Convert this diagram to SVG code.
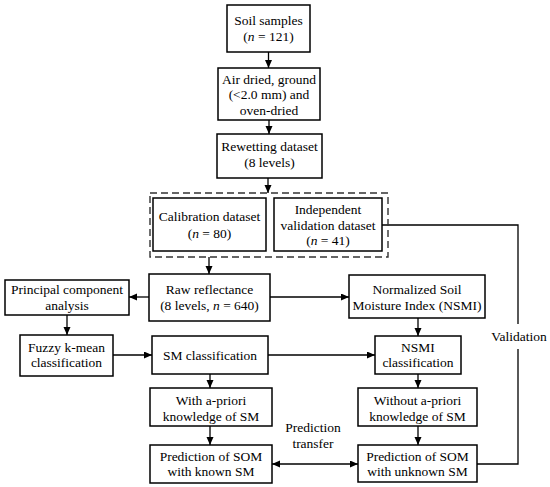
<svg xmlns="http://www.w3.org/2000/svg" width="550" height="487" viewBox="0 0 550 487">
<style>
  .box { fill: #ffffff; stroke: #000000; stroke-width: 1.5; }
  .dash { fill: none; stroke: #333333; stroke-width: 1.4; stroke-dasharray: 7 4; }
  .t { font-size: 13.5px; fill: #000000; text-anchor: middle; }
  .c { fill: none; stroke: #000000; stroke-width: 1.3; }
  .i { font-style: italic; }
</style>
<defs>
  <marker id="ah" markerUnits="userSpaceOnUse" markerWidth="9" markerHeight="8" refX="8" refY="3.5" orient="auto-start-reverse">
    <path d="M0,0 L8,3.5 L0,7 z" fill="#000000"/>
  </marker>
</defs>
<rect width="550" height="487" fill="#ffffff"/>
<g font-family="Liberation Serif, Tinos, DejaVu Serif, serif">
<g id="connectors">
  <line class="c" x1="268.5" y1="52" x2="268.5" y2="68" marker-end="url(#ah)"/>
  <line class="c" x1="269" y1="120" x2="269" y2="134" marker-end="url(#ah)"/>
  <line class="c" x1="268" y1="178" x2="268" y2="193" marker-end="url(#ah)"/>
  <line class="c" x1="209" y1="257" x2="209" y2="274" marker-end="url(#ah)"/>
  <line class="c" x1="149" y1="297" x2="129" y2="297" marker-end="url(#ah)"/>
  <line class="c" x1="270" y1="297" x2="349" y2="297" marker-end="url(#ah)"/>
  <line class="c" x1="67" y1="315" x2="67" y2="335" marker-end="url(#ah)"/>
  <line class="c" x1="418" y1="318" x2="418" y2="336" marker-end="url(#ah)"/>
  <line class="c" x1="113" y1="355" x2="152" y2="355" marker-end="url(#ah)"/>
  <line class="c" x1="268" y1="355" x2="375" y2="355" marker-end="url(#ah)"/>
  <line class="c" x1="210" y1="374" x2="210" y2="388" marker-end="url(#ah)"/>
  <line class="c" x1="418" y1="374" x2="418" y2="388" marker-end="url(#ah)"/>
  <line class="c" x1="210" y1="426" x2="210" y2="445" marker-end="url(#ah)"/>
  <line class="c" x1="418" y1="426" x2="418" y2="445" marker-end="url(#ah)"/>
  <line class="c" x1="272" y1="464" x2="358" y2="464" marker-start="url(#ah)" marker-end="url(#ah)"/>
  <polyline class="c" points="382,225 518,225 518,324"/>
  <polyline class="c" points="518,349 518,464 477,464"/>
  <text class="t" x="313" y="431.5">Prediction</text>
  <text class="t" x="313" y="447.5">transfer</text>
  <text class="t" x="519" y="341">Validation</text>
</g>

<g id="n1">
  <rect class="box" x="227" y="5" width="83" height="47"/>
  <text class="t" x="268.5" y="25">Soil samples</text>
  <text class="t" x="268.5" y="40.5">(<tspan class="i">n</tspan> = 121)</text>
</g>
<g id="n2">
  <rect class="box" x="218" y="68" width="102" height="52"/>
  <text class="t" x="269" y="83.5">Air dried, ground</text>
  <text class="t" x="269" y="99">(&lt;2.0 mm) and</text>
  <text class="t" x="269" y="114.5">oven-dried</text>
</g>
<g id="n3">
  <rect class="box" x="217" y="134" width="105" height="44"/>
  <text class="t" x="269.5" y="151">Rewetting dataset</text>
  <text class="t" x="269.5" y="167">(8 levels)</text>
</g>
<g id="group-datasets">
  <rect class="dash" x="150" y="193" width="238" height="64"/>
</g>
<g id="n4">
  <rect class="box" x="153" y="198" width="113" height="53"/>
  <text class="t" x="209.5" y="221">Calibration dataset</text>
  <text class="t" x="209.5" y="238">(<tspan class="i">n</tspan> = 80)</text>
</g>
<g id="n5">
  <rect class="box" x="274" y="198" width="108" height="53"/>
  <text class="t" x="328" y="214">Independent</text>
  <text class="t" x="328" y="229.5">validation dataset</text>
  <text class="t" x="328" y="245">(<tspan class="i">n</tspan> = 41)</text>
</g>
<g id="n6">
  <rect class="box" x="149" y="274" width="121" height="47"/>
  <text class="t" x="209.5" y="294">Raw reflectance</text>
  <text class="t" x="209.5" y="309.5">(8 levels, <tspan class="i">n</tspan> = 640)</text>
</g>
<g id="n7">
  <rect class="box" x="5" y="280" width="124" height="35"/>
  <text class="t" x="67" y="294">Principal component</text>
  <text class="t" x="67" y="309.5">analysis</text>
</g>
<g id="n8">
  <rect class="box" x="349" y="275" width="136" height="43"/>
  <text class="t" x="417" y="294">Normalized Soil</text>
  <text class="t" x="417" y="309.5">Moisture Index (NSMI)</text>
</g>
<g id="n9">
  <rect class="box" x="20" y="335" width="93" height="41"/>
  <text class="t" x="66.5" y="352">Fuzzy k-mean</text>
  <text class="t" x="66.5" y="367">classification</text>
</g>
<g id="n10">
  <rect class="box" x="152" y="336" width="116" height="38"/>
  <text class="t" x="210" y="359.5">SM classification</text>
</g>
<g id="n11">
  <rect class="box" x="375" y="336" width="86" height="38"/>
  <text class="t" x="418" y="352">NSMI</text>
  <text class="t" x="418" y="367">classification</text>
</g>
<g id="n12">
  <rect class="box" x="150" y="388" width="122" height="38"/>
  <text class="t" x="211" y="405">With a-priori</text>
  <text class="t" x="211" y="421">knowledge of SM</text>
</g>
<g id="n13">
  <rect class="box" x="150" y="445" width="122" height="38"/>
  <text class="t" x="211" y="461">Prediction of SOM</text>
  <text class="t" x="211" y="476">with known SM</text>
</g>
<g id="n14">
  <rect class="box" x="358" y="388" width="119" height="38"/>
  <text class="t" x="417.5" y="405">Without a-priori</text>
  <text class="t" x="417.5" y="421">knowledge of SM</text>
</g>
<g id="n15">
  <rect class="box" x="358" y="445" width="119" height="37"/>
  <text class="t" x="417.5" y="461">Prediction of SOM</text>
  <text class="t" x="417.5" y="476">with unknown SM</text>
</g>
</g>
</svg>
